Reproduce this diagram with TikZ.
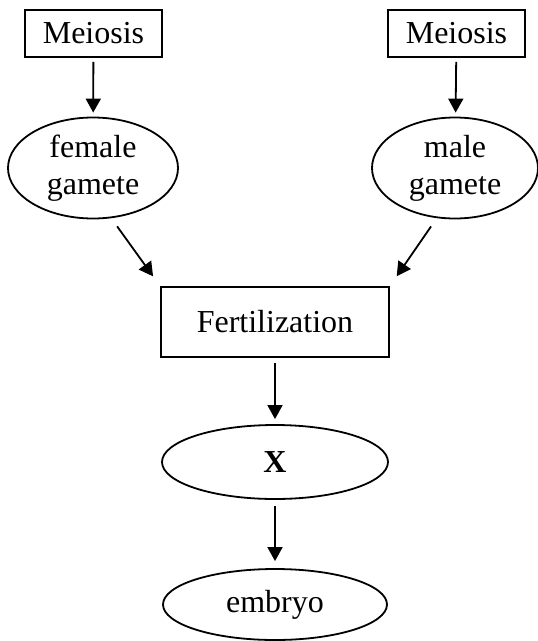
\documentclass[tikz,border=0pt]{standalone}
\usepackage{fontspec}
\setmainfont{Liberation Serif}
\usetikzlibrary{arrows.meta,shapes.geometric}

\begin{document}
\begin{tikzpicture}
		[x=1pt,y=-1pt,
		boxstyle/.style={rectangle,draw,line width=1.8pt,inner sep=0pt},
		ovalstyle/.style={ellipse,draw,line width=1.8pt,inner sep=0pt,align=center},
		textstyle/.style={font=\fontsize{32}{37}\selectfont},
		arrowstyle/.style={-{Triangle[width=15pt,length=14pt]},line width=1.8pt},
		backarrowstyle/.style={{Triangle[width=15pt,length=14pt]}-,line width=1.8pt}]
		\useasboundingbox (0,0) rectangle (538,641);
		\node at (93.5,33.5) (meioL) [boxstyle,textstyle,minimum width=137pt,minimum height=47pt] {Meiosis};
		\node at (456.5,33.5) (meioR) [boxstyle,textstyle,minimum width=137pt,minimum height=47pt] {Meiosis};
		\node at (93,168) (fem) [ovalstyle,textstyle,minimum width=170pt,minimum height=101pt] {female\\gamete}
			edge [backarrowstyle,shorten <=4pt,shorten >=4pt] (meioL);
		\node at (455,168) (male) [ovalstyle,textstyle,minimum width=166pt,minimum height=101pt] {male\\gamete}
			edge [backarrowstyle,shorten <=4pt,shorten >=4pt] (meioR);
		\node at (275,322) (fert) [boxstyle,textstyle,minimum width=228pt,minimum height=70pt] {Fertilization};
		\node at (275,462) (x) [ovalstyle,textstyle,minimum width=226pt,minimum height=74pt] {\textbf{X}}
			edge [backarrowstyle,shorten <=5pt,shorten >=5pt] (fert);
		\node at (275,604.5) (embryo) [ovalstyle,textstyle,minimum width=224pt,minimum height=71pt] {embryo}
			edge [backarrowstyle,shorten <=7pt,shorten >=6pt] (x);
		\draw [arrowstyle,shorten <=10pt,shorten >=12pt] (fem.-70) -- (fert.north west);
		\draw [arrowstyle,shorten <=10pt,shorten >=12pt] (male.-110) -- (fert.north east);
	\end{tikzpicture}
\end{document}
